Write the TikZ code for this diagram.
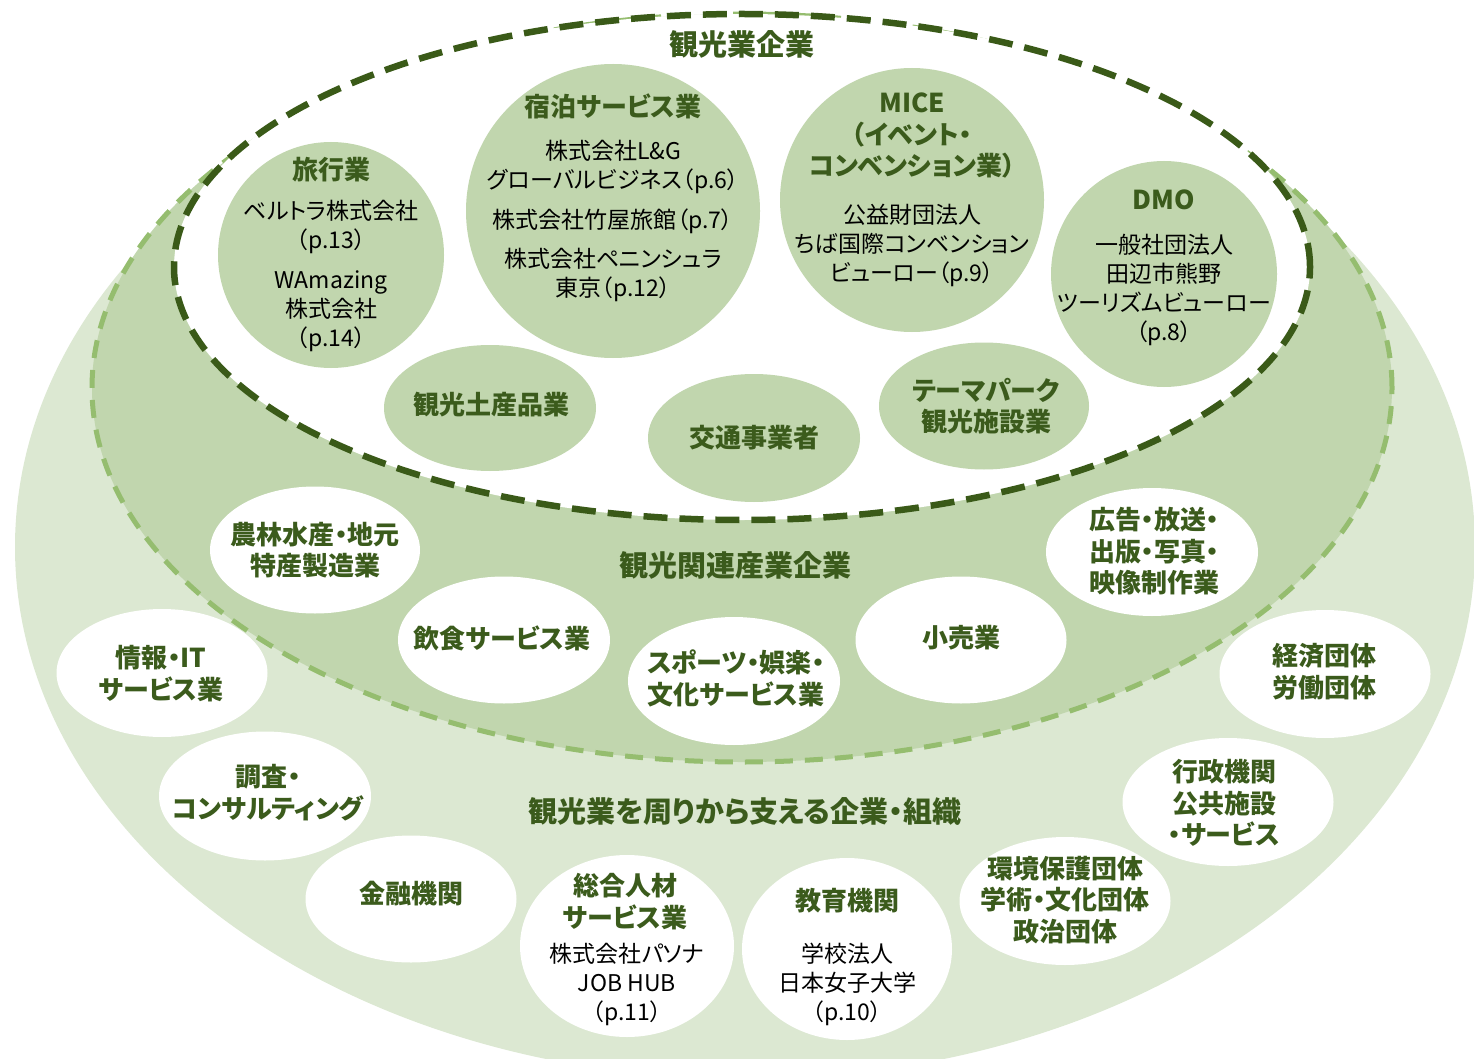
\documentclass[tikz,border=0pt]{standalone}
\usepackage{fontspec}
\setmainfont{Noto Sans CJK JP}[RawFeature={+palt}]
\usetikzlibrary{shapes.geometric}
\definecolor{txtgreen}{HTML}{3B5B1C}
\definecolor{darkdash}{HTML}{3A5A18}
\definecolor{midfill}{HTML}{C1D6AE}
\definecolor{outfill}{HTML}{DCE8D2}
\definecolor{lightdash}{HTML}{95BD6F}
\begin{document}
\begin{tikzpicture}[x=1pt,y=-1pt,
  bub/.style={ellipse, inner sep=0pt, draw=none},
  gbub/.style={bub, fill=midfill},
  wbub/.style={bub, fill=white},
  hd/.style={font=\fontsize{26}{31.5}\selectfont\bfseries, text=txtgreen, align=center, inner sep=0pt},
  bd/.style={font=\fontsize{23}{29}\selectfont, text=black, align=center, inner sep=0pt},
  ttl/.style={font=\fontsize{29}{34}\selectfont\bfseries, text=txtgreen, inner sep=0pt},
  ringdark/.style={draw=darkdash, line width=6.5pt, dash pattern=on 24pt off 12pt},
  ringlight/.style={draw=lightdash, line width=5pt, dash pattern=on 18pt off 12pt}]
\useasboundingbox (0,0) rectangle (1474,1059);
% rings
\begin{scope}
  \clip (0,0) rectangle (1474,1059);
  \fill[outfill] (745,547) ellipse [x radius=730pt, y radius=532pt];
\end{scope}
\fill[midfill] (742,388) ellipse [x radius=650pt, y radius=374pt];
\path[ringlight] (742,388) ellipse [x radius=650pt, y radius=374pt];
\fill[white] (742,267) ellipse [x radius=568pt, y radius=253pt];
\path[ringdark] (742,267) ellipse [x radius=568pt, y radius=253pt];
% titles
\node[ttl] (t1) at (742,44) {観光業企業};
\node[ttl] (t2) at (735,565) {観光関連産業企業};
\node[ttl] (t3) at (745,812) {観光業を周りから支える企業・組織};
% inner bubbles
\node[gbub, minimum width=226pt, minimum height=226pt] (ryoko) at (331,255) {};
\node[hd] (ryokoh) at (331,170) {旅行業};
\node[bd] (ryokob) at (331,276) {ベルトラ株式会社\\（p.13）\\[11pt]WAmazing\\株式会社\\（p.14）};

\node[gbub, minimum width=294pt, minimum height=294pt] (shuku) at (613,211) {};
\node[hd] (shukuh) at (613,106) {宿泊サービス業};
\node[bd] (shukub) at (613,221) {株式会社L\&G\\グローバルビジネス（p.6）\\[11pt]株式会社竹屋旅館（p.7）\\[10pt]株式会社ペニンシュラ\\東京（p.12）};

\node[gbub, minimum width=264pt, minimum height=264pt] (mice) at (912,200) {};
\node[hd] (miceh) at (912,135.5) {MICE\\（イベント・\\コンベンション業）};
\node[bd] (miceb) at (912,245.5) {公益財団法人\\ちば国際コンベンション\\ビューロー（p.9）};

\node[gbub, minimum width=226pt, minimum height=226pt] (dmo) at (1164,274) {};
\node[hd] (dmoh) at (1164,200) {DMO};
\node[bd] (dmob) at (1164,290) {一般社団法人\\田辺市熊野\\ツーリズムビューロー\\（p.8）};

\node[gbub, minimum width=212pt, minimum height=126pt] (miyage) at (490,408) {};
\node[hd] at (491,405) {観光土産品業};
\node[gbub, minimum width=212pt, minimum height=128pt] (kotsu) at (754,438) {};
\node[hd] at (754,438) {交通事業者};
\node[gbub, minimum width=210pt, minimum height=127pt] (theme) at (984,406) {};
\node[hd] at (986,406) {テーマパーク\\観光施設業};
% middle ring bubbles
\node[wbub, minimum width=210pt, minimum height=127pt] (nourin) at (315,550) {};
\node[hd] at (315,550) {農林水産・地元\\特産製造業};
\node[wbub, minimum width=212pt, minimum height=127pt] (inshoku) at (504,640) {};
\node[hd] at (502,638) {飲食サービス業};
\node[wbub, minimum width=212pt, minimum height=128pt] (sports) at (734,681) {};
\node[hd] at (736,678.5) {スポーツ・娯楽・\\文化サービス業};
\node[wbub, minimum width=211pt, minimum height=127pt] (kouri) at (961,640) {};
\node[hd] at (961,638) {小売業};
\node[wbub, minimum width=212pt, minimum height=128pt] (koukoku) at (1152,552) {};
\node[hd] at (1154,551.5) {広告・放送・\\出版・写真・\\映像制作業};
% outer ring bubbles
\node[wbub, minimum width=211pt, minimum height=128pt] (joho) at (162,673) {};
\node[hd] at (161,673.5) {情報・IT\\サービス業};
\node[wbub, minimum width=212pt, minimum height=129pt] (chosa) at (265,796) {};
\node[hd] at (268,792.5) {調査・\\コンサルティング};
\node[wbub, minimum width=211pt, minimum height=127pt] (kinyu) at (411,899) {};
\node[hd] at (411,894) {金融機関};
\node[wbub, minimum width=214pt, minimum height=182pt] (sogo) at (627,946) {};
\node[hd] at (625,901.5) {総合人材\\サービス業};
\node[bd] at (627,984.5) {株式会社パソナ\\JOB HUB\\（p.11）};
\node[wbub, minimum width=210pt, minimum height=182pt] (kyoiku) at (847,949) {};
\node[hd] at (847,901) {教育機関};
\node[bd] at (847,984.5) {学校法人\\日本女子大学\\（p.10）};
\node[wbub, minimum width=211pt, minimum height=128pt] (kankyo) at (1065,901) {};
\node[hd] at (1065,900) {環境保護団体\\学術・文化団体\\政治団体};
\node[wbub, minimum width=211pt, minimum height=128pt] (gyosei) at (1228,802) {};
\node[hd] at (1224,803) {行政機関\\公共施設\\・サービス};
\node[wbub, minimum width=211pt, minimum height=128pt] (keizai) at (1325,674) {};
\node[hd] at (1324,671.5) {経済団体\\労働団体};
\end{tikzpicture}
\end{document}
